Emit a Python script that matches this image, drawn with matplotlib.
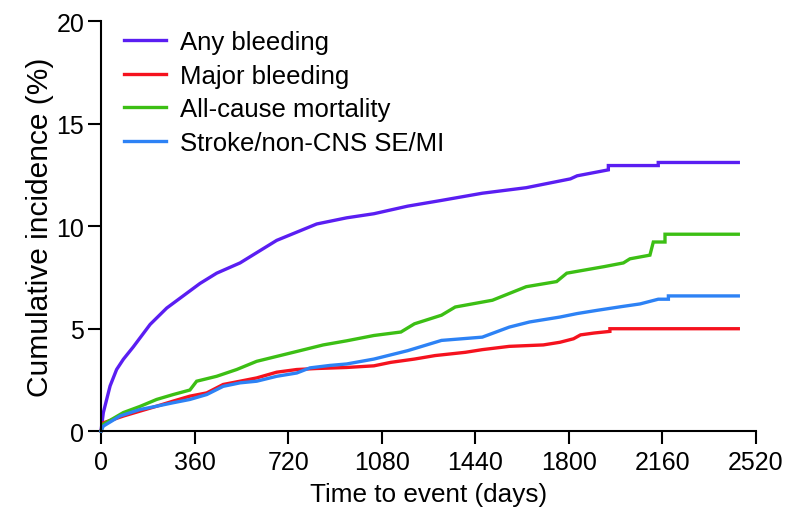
import matplotlib
matplotlib.use("Agg")
import matplotlib.pyplot as plt

plt.rcParams['font.family'] = ['Liberation Sans', 'DejaVu Sans']

# Data (days, cumulative incidence %)
any_days = [0, 9, 35, 60, 86, 124, 189, 253, 317, 381, 445, 535, 599, 676, 753, 830, 945,
            1050, 1180, 1310, 1467, 1636, 1806, 1832, 1952, 1952, 2144, 2144, 2452]
any_vals = [0, 0.9, 2.2, 3.0, 3.5, 4.1, 5.2, 6.0, 6.6, 7.2, 7.7, 8.2, 8.7, 9.3, 9.7, 10.1, 10.4,
            10.6, 10.97, 11.25, 11.6, 11.87, 12.3, 12.45, 12.74, 12.95, 12.95, 13.1, 13.1]

major_days = [0, 9, 86, 214, 278, 342, 407, 470, 535, 599, 676, 753, 830, 945, 1050, 1115, 1206,
              1285, 1402, 1467, 1571, 1702, 1766, 1818, 1845, 1897, 1958, 1958, 2452]
major_vals = [0, 0.4, 0.73, 1.21, 1.46, 1.7, 1.86, 2.27, 2.43, 2.59, 2.87, 3.0, 3.05, 3.1, 3.18,
              3.35, 3.51, 3.68, 3.84, 3.97, 4.13, 4.2, 4.33, 4.5, 4.69, 4.78, 4.86, 4.99, 4.99]

mort_days = [0, 9, 86, 150, 214, 278, 342, 368, 445, 522, 599, 676, 753, 855, 945, 1050, 1154,
             1206, 1310, 1363, 1506, 1571, 1636, 1753, 1792, 1936, 2010, 2035, 2112, 2125, 2170,
             2170, 2452]
mort_vals = [0, 0.33, 0.9, 1.2, 1.54, 1.78, 2.0, 2.43, 2.67, 3.0, 3.4, 3.64, 3.88, 4.2, 4.4, 4.66,
             4.83, 5.23, 5.65, 6.05, 6.38, 6.71, 7.04, 7.29, 7.7, 8.02, 8.2, 8.4, 8.58, 9.22, 9.22,
             9.6, 9.6]

stroke_days = [0, 9, 73, 150, 214, 278, 342, 407, 470, 535, 599, 676, 753, 804, 881, 945, 1050,
               1180, 1310, 1467, 1571, 1649, 1766, 1832, 1910, 2003, 2074, 2144, 2183, 2183, 2452]
stroke_vals = [0, 0.24, 0.73, 1.05, 1.21, 1.38, 1.54, 1.78, 2.18, 2.35, 2.43, 2.67, 2.83, 3.08,
               3.2, 3.27, 3.51, 3.92, 4.42, 4.58, 5.07, 5.32, 5.56, 5.73, 5.89, 6.07, 6.2, 6.43,
               6.43, 6.59, 6.59]

labels = ["Any bleeding", "Major bleeding", "All-cause mortality", "Stroke/non-CNS SE/MI"]
colors = ["#5a1ef2", "#f5121e", "#3cbf14", "#2d82f5"]
x_ticks = [0, 360, 720, 1080, 1440, 1800, 2160, 2520]
y_ticks = [0, 5, 10, 15, 20]

fig = plt.figure(figsize=(7.86, 5.10), dpi=100)
ax = fig.add_axes([0.1285, 0.1529, 0.8333, 0.8039])

series = [(any_days, any_vals), (major_days, major_vals), (mort_days, mort_vals),
          (stroke_days, stroke_vals)]
for (d, v), lab, c in zip(series, labels, colors):
    ax.plot(d, v, color=c, lw=2.4, label=lab, solid_joinstyle='miter', clip_on=False)

ax.set_xlim(0, 2520)
ax.set_ylim(0, 20)
ax.set_xticks(x_ticks)
ax.set_yticks(y_ticks)
for s in ['top', 'right']:
    ax.spines[s].set_visible(False)
for s in ['left', 'bottom']:
    ax.spines[s].set_linewidth(1.5)
ax.tick_params(axis='both', which='major', length=9.5, width=1.5, labelsize=18,
               direction='out', pad=2.5)
ax.tick_params(axis='x', pad=4.5)
ax.set_xlabel("Time to event (days)", fontsize=18.8, labelpad=5.5)
ax.set_ylabel("Cumulative incidence (%)", fontsize=21.5, labelpad=2)

leg = ax.legend(loc='upper left', bbox_to_anchor=(0.035, 0.978), frameon=False, fontsize=18.5,
                handlelength=1.63, handletextpad=0.55, labelspacing=0.37, borderaxespad=0.0,
                borderpad=0.0)
for h in leg.get_lines():
    h.set_linewidth(2.4)

fig.savefig("out.png", dpi=100)
